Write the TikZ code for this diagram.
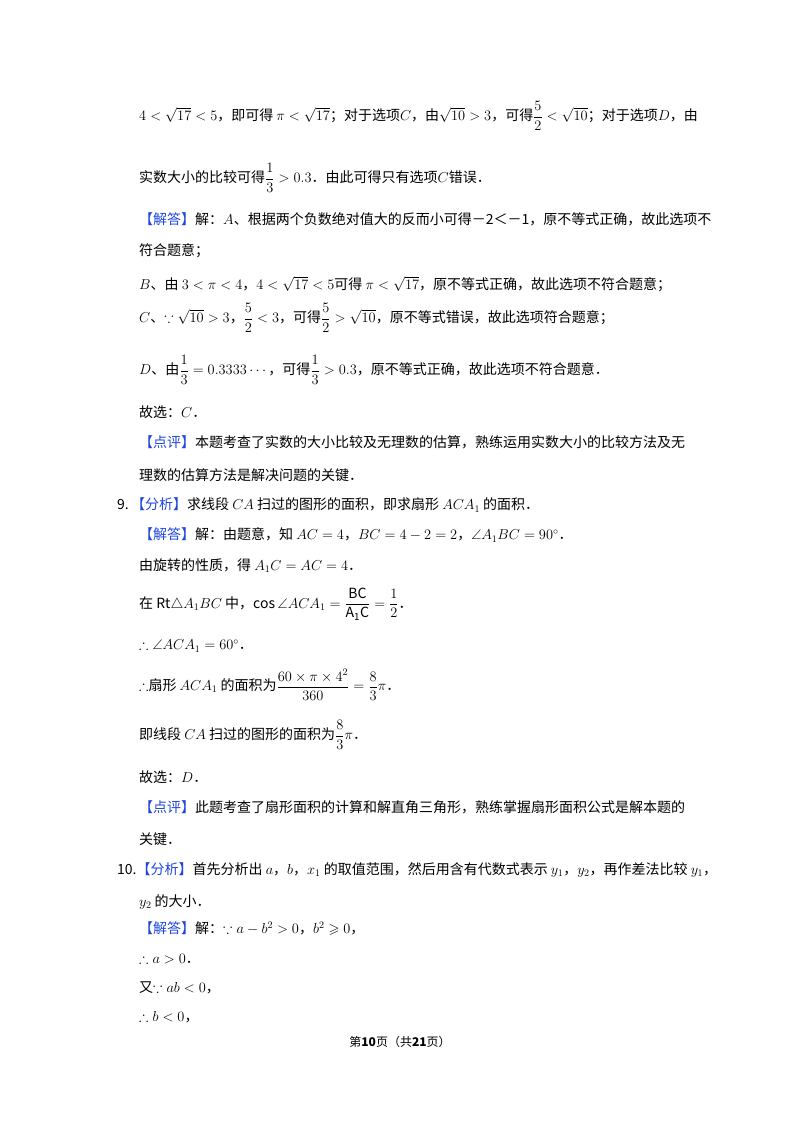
\documentclass[tikz,border=0pt]{standalone}
\usepackage{amsmath,amssymb}
\usepackage{fontspec}
\setmainfont{Noto Sans CJK SC}
\definecolor{tagblue}{RGB}{30,70,220}
\newcommand{\tagb}[1]{\textcolor{tagblue}{【#1】}}
\begin{document}
\begin{tikzpicture}[x=1pt,y=-1pt,every node/.style={anchor=west,inner sep=0pt,font=\fontsize{14}{16}\selectfont}]
\useasboundingbox (0,0) rectangle (800,1132);
\node (l1) at (139,116) {$4<\sqrt{17}<5$，即可得 $\pi<\sqrt{17}$；对于选项$C$，由$\sqrt{10}>3$，可得$\dfrac52<\sqrt{10}$；对于选项$D$，由};
\node (l2) at (139,178) {实数大小的比较可得$\dfrac13>0.3$．由此可得只有选项$C$错误．};
\node (l3) at (139,219) {\tagb{解答}解：$A$、根据两个负数绝对值大的反而小可得－2＜－1，原不等式正确，故此选项不};
\node (l4) at (139,251) {符合题意；};
\node (l5) at (139,284) {$B$、由 $3<\pi<4$，$4<\sqrt{17}<5$可得 $\pi<\sqrt{17}$，原不等式正确，故此选项不符合题意；};
\node (l6) at (139,318) {$C$、$\because\sqrt{10}>3$，$\dfrac52<3$，可得$\dfrac52>\sqrt{10}$，原不等式错误，故此选项符合题意；};
\node (l7) at (139,370) {$D$、由$\dfrac13=0.3333\cdots$，可得$\dfrac13>0.3$，原不等式正确，故此选项不符合题意．};
\node (l8) at (139,412) {故选：$C$．};
\node (l9) at (139,442) {\tagb{点评}本题考查了实数的大小比较及无理数的估算，熟练运用实数大小的比较方法及无};
\node (l10) at (139,475) {理数的估算方法是解决问题的关键．};
\node (n9) at (117,505) {9.\,\tagb{分析}求线段 $CA$ 扫过的图形的面积，即求扇形 $ACA_1$ 的面积．};
\node (l11) at (139,535) {\tagb{解答}解：由题意，知 $AC=4$，$BC=4-2=2$，$\angle A_1BC=90^\circ$．};
\node (l12) at (139,566) {由旋转的性质，得 $A_1C=AC=4$．};
\node (l13) at (139,604) {在 Rt$\triangle A_1BC$ 中，$\cos\angle ACA_1=\dfrac{\mathrm{BC}}{\mathrm{A_1C}}=\dfrac12$．};
\node (l14) at (139,646) {$\therefore\angle ACA_1=60^\circ$．};
\node (l15) at (139,685) {$\therefore$扇形 $ACA_1$ 的面积为$\dfrac{60\times\pi\times4^2}{360}=\dfrac83\pi$．};
\node (l16) at (139,735) {即线段 $CA$ 扫过的图形的面积为$\dfrac83\pi$．};
\node (l17) at (139,777) {故选：$D$．};
\node (l18) at (139,807) {\tagb{点评}此题考查了扇形面积的计算和解直角三角形，熟练掌握扇形面积公式是解本题的};
\node (l19) at (139,839) {关键．};
\node (n10) at (117,870) {10.\tagb{分析}首先分析出 $a$，$b$，$x_1$ 的取值范围，然后用含有代数式表示 $y_1$，$y_2$，再作差法比较 $y_1$，};
\node (l20) at (139,902) {$y_2$ 的大小．};
\node (l21) at (139,929) {\tagb{解答}解：$\because a-b^2>0$，$b^2\geqslant0$，};
\node (l22) at (139,959) {$\therefore a>0$．};
\node (l23) at (139,988) {又$\because ab<0$，};
\node (l24) at (139,1017) {$\therefore b<0$，};
\node[anchor=center,font=\fontsize{12}{14}\selectfont] (ft) at (400,1042) {第\textbf{10}页（共\textbf{21}页）};
\end{tikzpicture}
\end{document}
